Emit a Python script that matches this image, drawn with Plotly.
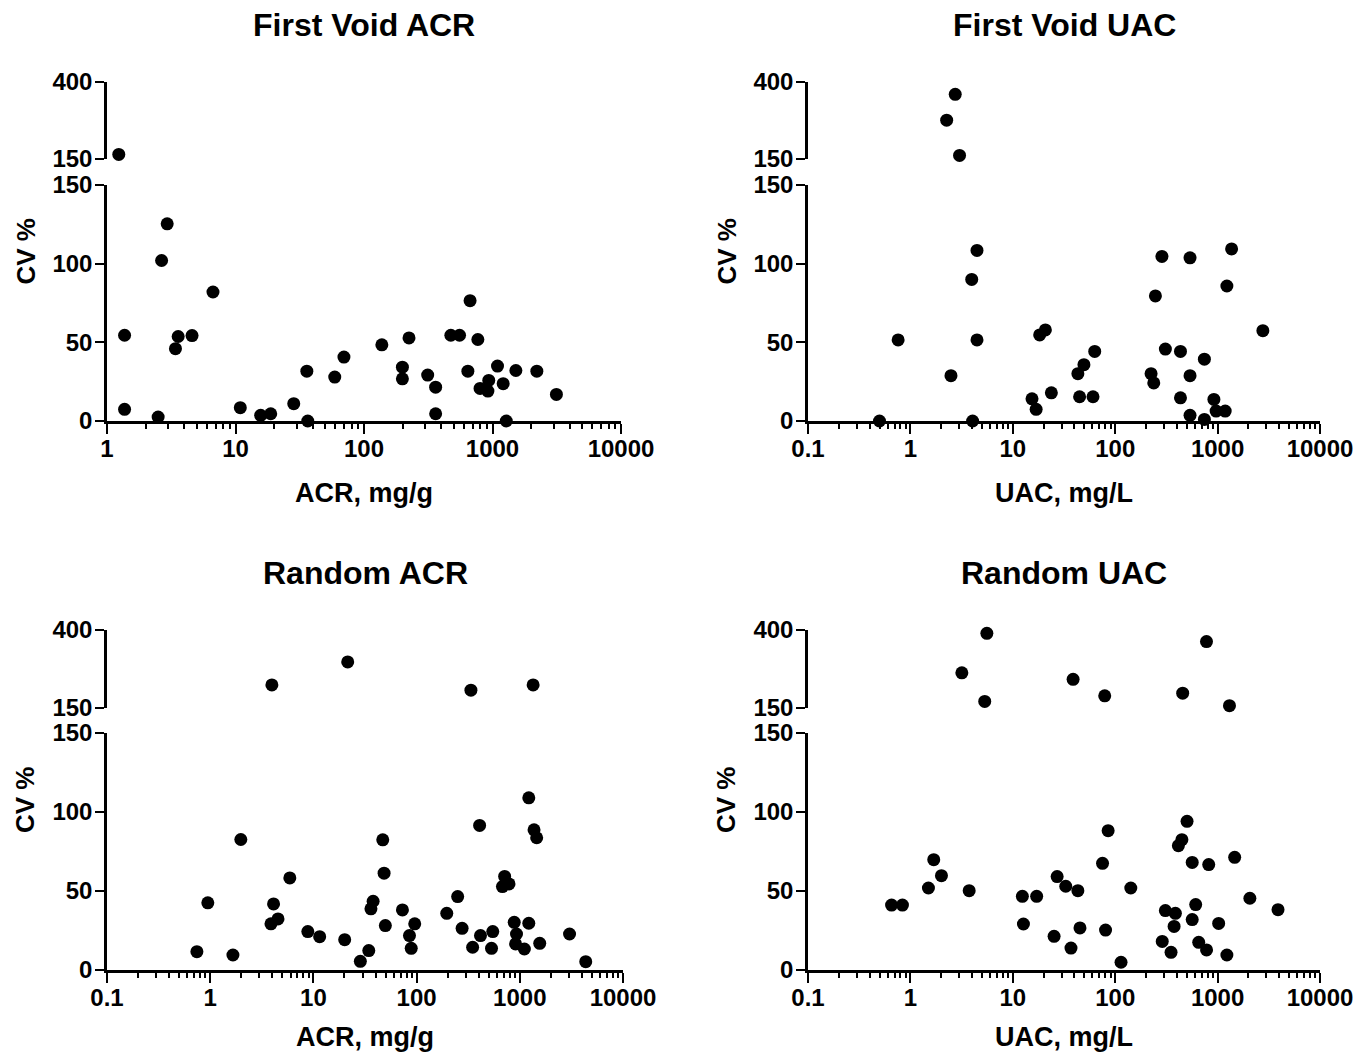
import plotly.graph_objects as go

# ---------------- data ----------------
fv_acr_x = [1.235, 1.37, 1.37, 2.5, 2.66, 2.94, 3.41, 3.58, 4.59, 6.68, 10.9, 15.7, 18.8, 28.4,
            35.9, 36.5, 59.2, 69.8, 137.7, 199, 199, 224, 313, 361, 361, 474, 554, 669, 643,
            769, 800, 935, 921, 1094, 1211, 1280, 1520, 2213, 3143]
fv_acr_y = [165, 54.5, 7.4, 2.5, 102, 125.3, 46, 53.7, 54.3, 82, 8.5, 3.6, 4.6, 11,
            31.7, 0, 27.9, 40.6, 48.4, 34.2, 26.8, 52.8, 29.2, 21.5, 4.6, 54.5, 54.5, 76.5, 31.7,
            51.8, 20.7, 25.8, 19, 34.9, 23.7, 0, 32.1, 31.7, 16.9]

fv_uac_x = [0.499, 0.759, 2.26, 2.74, 3.02, 2.49, 3.97, 4.05, 4.47, 4.47, 15.4, 16.9, 18.3, 20.8,
            23.8, 43.2, 49.5, 44.9, 60.7, 63.1, 224, 238, 247, 286, 309, 434, 434, 538, 538, 538,
            743, 743, 920, 967, 1186, 1232, 1370, 2767]
fv_uac_y = [0, 51.5, 276, 360, 161.6, 28.8, 90, 0, 108.4, 51.5, 14.1, 7.4, 54.7, 57.9,
            17.9, 30.1, 35.8, 15.4, 15.4, 44.2, 30.1, 24.2, 79.5, 104.6, 45.7, 44.2, 14.7, 103.7, 28.8, 3.6,
            39.3, 1, 13.7, 6.3, 6.3, 85.8, 109.4, 57.4]

rd_acr_x = [3.96, 21.5, 336, 1346, 0.743, 0.948, 1.66, 1.98, 3.88, 4.11, 4.54, 5.91, 8.83, 11.5,
            20.1, 28.5, 34.4, 36.1, 37.9, 47, 48.4, 49.8, 72.9, 85.3, 88.7, 95.9, 196, 250, 276,
            349, 408, 416, 547, 532, 679, 713, 786, 883, 929, 910, 1107, 1222, 1222, 1374, 1457,
            1560, 3034, 4355]
rd_acr_y = [223.8, 297.7, 207, 223.8, 11.6, 42.5, 9.5, 82.6, 29.2, 41.8, 32.3, 58.3, 24.3, 21.1,
            19.2, 5.5, 12.3, 38.7, 43.5, 82.4, 61.3, 28.1, 38.0, 21.8, 13.7, 29.2, 35.9, 46.5, 26.4,
            14.4, 91.5, 21.8, 24.3, 13.7, 52.8, 59.2, 54.5, 30.2, 22.8, 16.5, 13.3, 109.0, 29.6, 88.7, 83.7,
            16.9, 22.8, 5.3]

rd_uac_x = [5.58, 3.18, 5.32, 38.8, 79, 779, 456, 1306, 0.655, 0.836, 1.50, 1.69, 2.01, 3.75,
            12.4, 12.7, 17.1, 25.3, 27.1, 32.9, 37.0, 43.2, 45.3, 75.2, 80.5, 85.3, 114, 142, 288,
            309, 351, 387, 376, 414, 448, 503, 565, 565, 611, 654, 780, 819, 1024, 1232, 1468,
            2066, 3890]
rd_uac_y = [389.5, 262.9, 171.1, 241.8, 189, 363, 197.5, 157.4, 41.1, 41.1, 51.9, 69.8, 59.7, 50.2,
            46.6, 29.1, 46.6, 21.3, 59.1, 53.0, 13.9, 50.2, 26.6, 67.5, 25.3, 88.2, 4.9, 51.9, 18.1,
            37.6, 11.2, 35.9, 27.6, 78.7, 82.5, 94.1, 68.1, 31.9, 41.4, 17.5, 12.7, 66.7, 29.5, 9.5, 71.3,
            45.4, 38.2]

titles = ["First Void ACR", "First Void UAC", "Random ACR", "Random UAC"]
x_titles = ["ACR, mg/g", "UAC, mg/L", "ACR, mg/g", "UAC, mg/L"]
y_title = "CV %"
x_tick_vals = [0.1, 1, 10, 100, 1000, 10000]
x_tick_text = ["0.1", "1", "10", "100", "1000", "10000"]
low_ticks = [0, 50, 100, 150]
high_ticks = [150, 400]
BREAK = 150

panels_data = [(fv_acr_x, fv_acr_y), (fv_uac_x, fv_uac_y), (rd_acr_x, rd_acr_y), (rd_uac_x, rd_uac_y)]

# ---------------- layout geometry (page pixels) ----------------
PAGE_W, PAGE_H = 1372, 1061
BODY = 8  # default body margin of the html page
W, H = PAGE_W - 2 * BODY, PAGE_H - 2 * BODY
FONT = "Liberation Sans, Arial, Helvetica, sans-serif"


def fx(p):
    return (p - BODY) / W


def fy(p):
    return 1 - (p - BODY) / H


# (x_left, x_right, upper_top, upper_bottom, lower_top, lower_bottom, xmin_log, xtitle_offset)
geom = [
    (107, 621, 82, 159, 185, 421, 0, 72),
    (808, 1320, 82, 159, 185, 421, -1, 72),
    (107, 623, 630, 708, 733, 970, -1, 67),
    (808, 1320, 630, 708, 733, 970, -1, 67),
]

fig = go.Figure()
layout = dict(
    template="none",
    width=W, height=H,
    margin=dict(l=0, r=0, t=0, b=0, autoexpand=False),
    paper_bgcolor="white", plot_bgcolor="white",
    showlegend=False,
    annotations=[],
)

tickfont = dict(family=FONT, size=24, color="black", weight="bold")
n_axes = 8

for i, ((xs, ys), g) in enumerate(zip(panels_data, geom)):
    xl, xr, ut, ub, lt, lb, xmin, xto = g
    xa = "xaxis" if i == 0 else f"xaxis{i+1}"
    xref = "x" if i == 0 else f"x{i+1}"
    ylo_n = 2 * i + 1
    yhi_n = 2 * i + 2
    ylo = "yaxis" if ylo_n == 1 else f"yaxis{ylo_n}"
    ylo_ref = "y" if ylo_n == 1 else f"y{ylo_n}"
    yhi = f"yaxis{yhi_n}"
    yhi_ref = f"y{yhi_n}"

    lx = [x for x, y in zip(xs, ys) if y <= BREAK]
    ly = [y for x, y in zip(xs, ys) if y <= BREAK]
    hx = [x for x, y in zip(xs, ys) if y > BREAK]
    hy = [y for x, y in zip(xs, ys) if y > BREAK]
    mk = dict(size=13, color="black", line=dict(width=0))
    fig.add_trace(go.Scatter(x=lx, y=ly, mode="markers", marker=mk, xaxis=xref, yaxis=ylo_ref, cliponaxis=False))
    fig.add_trace(go.Scatter(x=hx, y=hy, mode="markers", marker=mk, xaxis=xref, yaxis=yhi_ref, cliponaxis=False))

    minor_vals = [m * 10 ** d for d in range(xmin, 4) for m in range(2, 10)]
    tv = [v for v in x_tick_vals if v >= 10 ** xmin]
    tt = [t for v, t in zip(x_tick_vals, x_tick_text) if v >= 10 ** xmin]
    layout[xa] = dict(
        domain=[fx(xl), fx(xr)], anchor=ylo_ref, type="log", range=[xmin, 4],
        automargin=False,
        tickmode="array", tickvals=tv, ticktext=tt,
        ticks="outside", ticklen=10, tickwidth=2, tickcolor="black",
        ticklabelstandoff=-6,
        minor=dict(tickmode="array", tickvals=minor_vals, ticks="outside", ticklen=5, tickwidth=2,
                   tickcolor="black", showgrid=False),
        showline=True, linewidth=2.5, linecolor="black", showgrid=False, zeroline=False,
        tickfont=tickfont,
    )
    common_y = dict(
        anchor=xref, automargin=False, tickmode="array",
        ticks="outside", ticklen=9, tickwidth=2, tickcolor="black",
        ticklabelstandoff=-2,
        showline=True, linewidth=2.5, linecolor="black", showgrid=False, zeroline=False,
        tickfont=tickfont,
    )
    layout[ylo] = dict(domain=[fy(lb), fy(lt)], range=[0, BREAK], tickvals=low_ticks, **common_y)
    layout[yhi] = dict(domain=[fy(ub), fy(ut)], range=[BREAK, 400], tickvals=high_ticks, **common_y)

    # small inward ticks marking the axis break at 150 on both segments
    for base_ref, rng in ((ylo_ref, [0, BREAK]), (yhi_ref, [BREAK, 400])):
        n_axes += 1
        layout[f"yaxis{n_axes}"] = dict(
            overlaying=base_ref, anchor=xref, side="left", range=rng,
            automargin=False, tickmode="array", tickvals=[BREAK],
            ticks="inside", ticklen=8, tickwidth=2, tickcolor="black",
            showticklabels=False, showline=False, showgrid=False, zeroline=False,
        )
        fig.add_trace(go.Scatter(x=[], y=[], mode="markers", xaxis=xref, yaxis=f"y{n_axes}",
                                 hoverinfo="skip", showlegend=False))

    cx = (xl + xr) / 2
    layout["annotations"].append(dict(
        text=titles[i], xref="paper", yref="paper", x=fx(cx), y=fy(ut - 57),
        showarrow=False, xanchor="center", yanchor="middle",
        font=dict(family=FONT, size=32, color="black", weight="bold"),
    ))
    layout["annotations"].append(dict(
        text=x_titles[i], xref="paper", yref="paper", x=fx(cx), y=fy(lb + xto),
        showarrow=False, xanchor="center", yanchor="middle",
        font=dict(family=FONT, size=27, color="black", weight="bold"),
    ))
    layout["annotations"].append(dict(
        text=y_title, xref="paper", yref="paper", x=fx(xl - 82), y=fy((ut + lb) / 2),
        showarrow=False, xanchor="center", yanchor="middle", textangle=-90,
        font=dict(family=FONT, size=26, color="black", weight="bold"),
    ))

fig.update_layout(**layout)
fig.write_html("out.html")
